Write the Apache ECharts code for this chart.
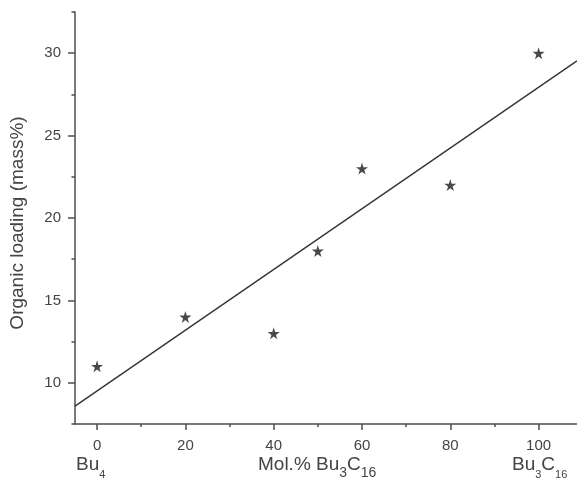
<!DOCTYPE html>
<html>
<head>
<meta charset="utf-8">
<script src="https://cdn.jsdelivr.net/npm/echarts@6/dist/echarts.min.js"></script>
<style>
html,body{margin:0;padding:0;background:#fff;}
#chart{width:577px;height:489px;}
</style>
</head>
<body>
<div id="chart"></div>
<script>
// Data
var molPercent = [0, 20, 40, 50, 60, 80, 100];
var organicLoading = [11, 14, 13, 18, 23, 22, 30];
// Linear fit line endpoints (at axis ends)
var fitX = [-5, 108.7];
var fitY = [8.58, 29.54];
// Axis ticks
var xMajorTicks = [0, 20, 40, 60, 80, 100];
var xMinorTicks = [10, 30, 50, 70, 90];
var yMajorTicks = [10, 15, 20, 25, 30];
var yMinorTicks = [7.5, 12.5, 17.5, 22.5, 27.5, 32.5];

var axisColor = '#4d4d4d';
var textColor = '#444';
var fontFam = 'Liberation Sans, Arial, sans-serif';
var starPath = 'path://M50,0 L61,35 L98,35 L68,57 L79,91 L50,70 L21,91 L32,57 L2,35 L39,35 Z';

var chart = echarts.init(document.getElementById('chart'), null, {renderer: 'canvas'});

var xRange = {min: -5, max: 108.7};
var yRange = {min: 7.5, max: 32.5};

var option = {
  backgroundColor: '#fff',
  animation: false,
  grid: {left: 75, top: 12, right: 0, bottom: 65, containLabel: false},
  xAxis: [
    {
      type: 'value', min: xRange.min, max: xRange.max, position: 'bottom',
      axisLine: {show: true, onZero: false, lineStyle: {color: axisColor, width: 1.5}},
      axisTick: {show: true, customValues: xMajorTicks, length: 6, lineStyle: {color: axisColor, width: 1.5}},
      axisLabel: {show: true, customValues: xMajorTicks, margin: 14, color: textColor, fontSize: 15, fontFamily: fontFam},
      splitLine: {show: false}
    },
    {
      type: 'value', min: xRange.min, max: xRange.max, position: 'bottom',
      axisLine: {show: false, onZero: false},
      axisTick: {show: true, customValues: xMinorTicks, length: 3, lineStyle: {color: axisColor, width: 1.5}},
      axisLabel: {show: false},
      splitLine: {show: false}
    }
  ],
  yAxis: [
    {
      type: 'value', min: yRange.min, max: yRange.max, position: 'left',
      name: 'Organic loading (mass%)', nameLocation: 'middle', nameGap: 48, nameRotate: 90,
      nameTextStyle: {color: textColor, fontSize: 19, fontFamily: fontFam, padding: [0, 10, 0, 0]},
      axisLine: {show: true, onZero: false, lineStyle: {color: axisColor, width: 1.5}},
      axisTick: {show: true, customValues: yMajorTicks, length: 7, lineStyle: {color: axisColor, width: 1.5}},
      axisLabel: {show: true, customValues: yMajorTicks, margin: 14, color: textColor, fontSize: 15, fontFamily: fontFam},
      splitLine: {show: false}
    },
    {
      type: 'value', min: yRange.min, max: yRange.max, position: 'left',
      axisLine: {show: false, onZero: false},
      axisTick: {show: true, customValues: yMinorTicks, length: 3.5, lineStyle: {color: axisColor, width: 1.5}},
      axisLabel: {show: false},
      splitLine: {show: false}
    }
  ],
  series: [
    {
      type: 'line', xAxisIndex: 0, yAxisIndex: 0,
      data: fitX.map(function (x, i) { return [x, fitY[i]]; }),
      showSymbol: false, symbol: 'none',
      lineStyle: {color: '#333', width: 1.4},
      silent: true, clip: true
    },
    {
      type: 'scatter', xAxisIndex: 0, yAxisIndex: 0,
      data: molPercent.map(function (x, i) { return [x, organicLoading[i]]; }),
      symbol: starPath, symbolSize: 12,
      itemStyle: {color: '#1a1a1a'}
    }
  ],
  graphic: [
    {
      type: 'text', left: 76, top: 455,
      style: {
        text: '{m|Bu}{s|4}',
        rich: {
          m: {fontSize: 19, fontFamily: fontFam, fill: textColor, lineHeight: 32},
          s: {fontSize: 11, fontFamily: fontFam, fill: textColor, lineHeight: 10, verticalAlign: 'bottom'}
        }
      }
    },
    {
      type: 'text', left: 258, top: 455,
      style: {
        text: '{m|Mol.% Bu}{s|3}{m|C}{s|16}',
        rich: {
          m: {fontSize: 19, fontFamily: fontFam, fill: textColor, lineHeight: 32},
          s: {fontSize: 14, fontFamily: fontFam, fill: textColor, lineHeight: 23, verticalAlign: 'bottom'}
        }
      }
    },
    {
      type: 'text', left: 512, top: 455,
      style: {
        text: '{m|Bu}{s|3}{m|C}{s|16}',
        rich: {
          m: {fontSize: 19, fontFamily: fontFam, fill: textColor, lineHeight: 32},
          s: {fontSize: 11, fontFamily: fontFam, fill: textColor, lineHeight: 10, verticalAlign: 'bottom'}
        }
      }
    }
  ]
};
chart.setOption(option);
</script>
</body>
</html>
